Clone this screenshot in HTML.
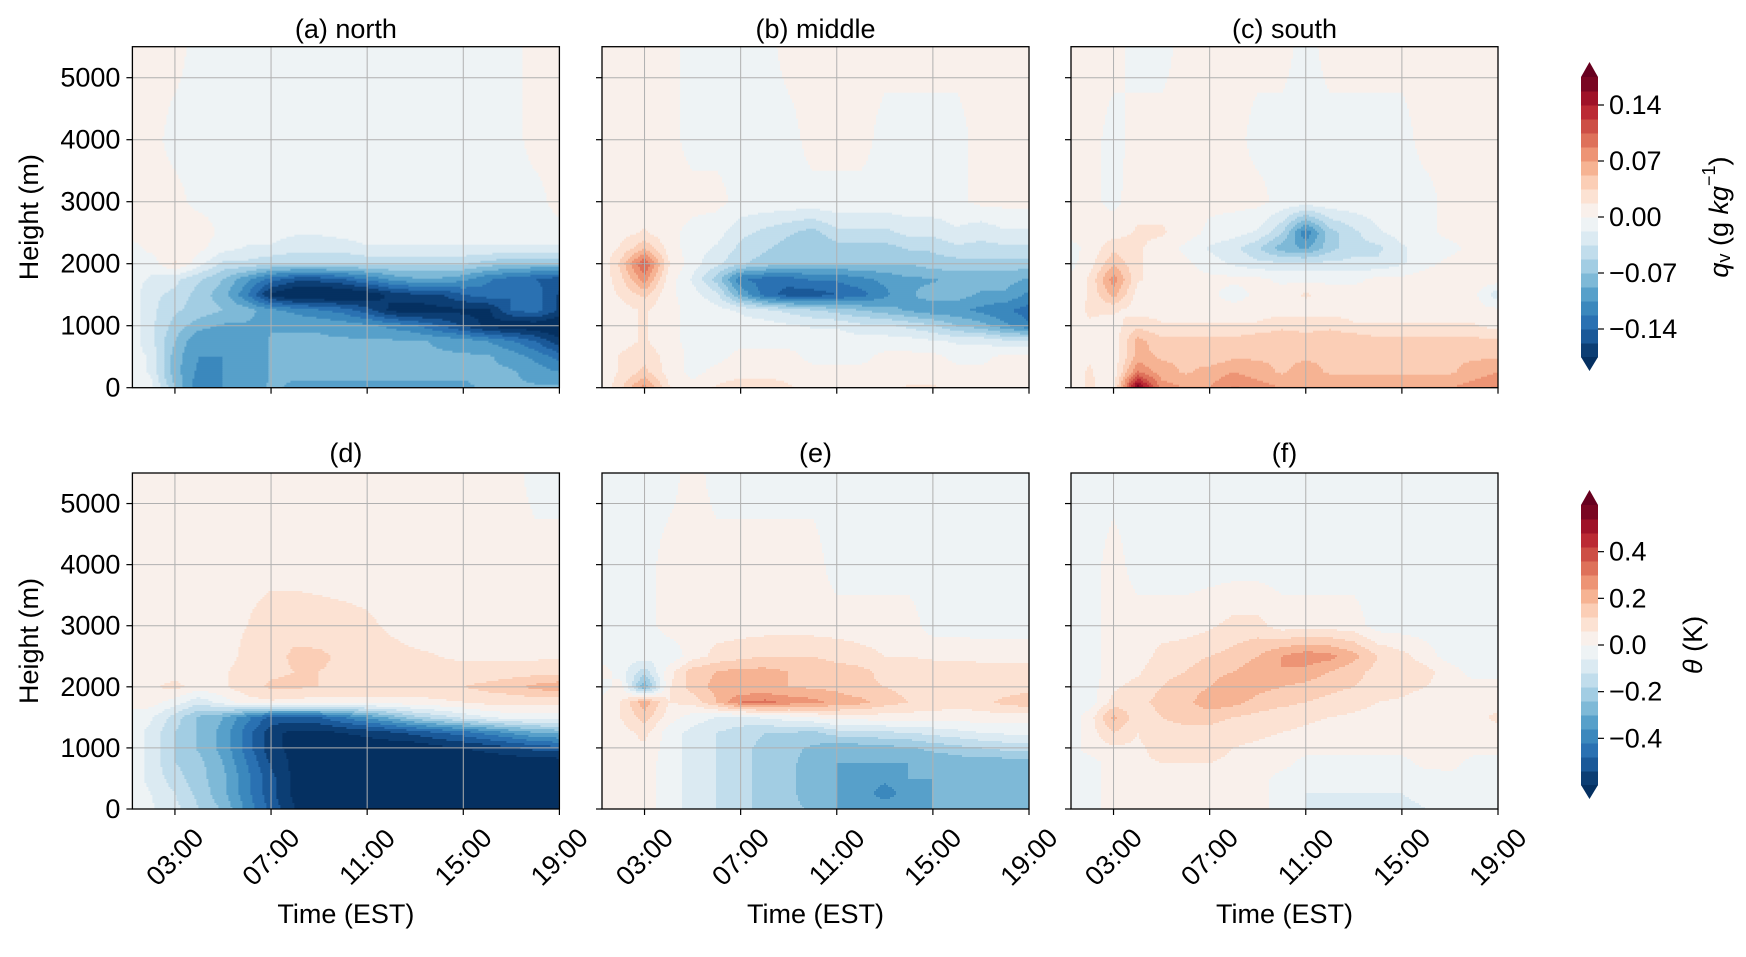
<!DOCTYPE html>
<html><head><meta charset="utf-8"><style>
html,body{margin:0;padding:0;background:#fff;}
svg text{font-family:"Liberation Sans","DejaVu Sans",sans-serif;fill:#000;}
</style></head>
<body>
<svg id="fig" xmlns="http://www.w3.org/2000/svg" width="1746" height="952" viewBox="0 0 1746 952"></svg>
<script>
// ---------- data ----------
const times=[1.25,2,3,4,5,6,7,8,9,10,11,12,13,14,15,16,17,18,19];
const heights=[5500,4000,3000,2500,2250,2000,1750,1500,1250,1000,750,500,250,0];
const xTickHours=[3,7,11,15,19];
const xTickLabels=["03:00","07:00","11:00","15:00","19:00"];
const yTickValues=[0,1000,2000,3000,4000,5000];
const qvTicks=[0.14,0.07,0,-0.07,-0.14];
const qvTickLabels=["0.14","0.07","0.00","\u22120.07","\u22120.14"];
const thTicks=[0.4,0.2,0,-0.2,-0.4];
const thTickLabels=["0.4","0.2","0.0","\u22120.2","\u22120.4"];
const panelTitles=["(a) north","(b) middle","(c) south","(d)","(e)","(f)"];
// qv in 0.01 g/kg
const qvNorth=[
[0.5,0.5,0.5,-0.5,-0.5,-0.5,-0.5,-0.5,-0.5,-0.5,-0.5,-0.5,-0.5,-0.5,-0.5,-0.5,-0.5,0.5,0.5],
[0.5,0.5,-0.5,-0.5,-0.5,-0.5,-0.5,-0.5,-0.5,-0.5,-0.5,-0.5,-0.5,-0.5,-0.5,-0.5,-0.5,0.5,0.5],
[0.5,0.5,0.5,-0.5,-0.5,-0.5,-0.5,-0.5,-0.5,-0.5,-0.5,-0.5,-0.5,-0.5,-0.5,-0.5,-0.5,-0.5,0.5],
[0.5,0.5,1,1,-0.5,-0.5,-1,-1.5,-1.5,-1,-0.5,-0.5,-0.5,-0.5,-0.5,-0.5,-0.5,-0.5,-0.5],
[-0.5,0.5,1,0.5,-1,-2,-2,-3,-3,-3,-2,-2,-2,-2,-2,-2,-2,-2,-2],
[-0.5,-1,2,-1,-4,-4,-5,-5,-5,-5,-5,-5,-5,-5,-5,-6,-7,-7,-7],
[-1,-2,-3,-5,-7,-10,-13,-15,-15,-14,-12,-10,-9,-9,-10,-12,-13,-14,-15],
[-1,-3,-4,-6,-8,-12,-18,-20,-20,-20,-19,-17,-16,-16,-14,-13,-14,-13,-16],
[-1,-3,-5,-6,-7,-8,-10,-11,-12,-13,-15,-18,-19,-18,-18,-18,-14,-13,-16],
[-1,-3,-6,-8,-9,-9,-9,-9,-9,-9.5,-10,-11,-12,-14,-16,-18,-19,-19,-20],
[-1,-3,-7,-10.5,-10.5,-10.5,-8.5,-8.5,-8.5,-8.5,-8.5,-8.5,-8.5,-9,-9.5,-10.5,-12,-14,-17],
[-1,-2,-8,-10.5,-10.5,-10.5,-8.5,-8.5,-8.5,-8.5,-8.5,-8.5,-8.5,-8.5,-8.5,-8.5,-9.5,-11,-13],
[-1,-2,-8,-11,-10.5,-10.5,-8.5,-8.5,-8.5,-8.5,-8.5,-8.5,-8.5,-8.5,-8.5,-8.5,-8.5,-9.5,-10.5],
[-0.5,-1,-7,-12,-10.5,-10,-8.5,-9,-9,-9,-9,-9,-9,-9,-9,-8.5,-8.5,-8.5,-8.5]];
const qvMiddle=[
[0.5,0.5,0.5,0.5,-0.5,-0.5,-0.5,-0.5,0.5,0.5,0.5,0.5,0.5,0.5,0.5,0.5,0.5,0.5,0.5],
[0.5,0.5,0.5,0.5,-0.5,-0.5,-0.5,-0.5,-0.5,0.5,0.5,0.5,-0.5,-0.5,-0.5,-0.5,0.5,0.5,0.5],
[0.5,0.5,0.5,0.5,0.5,0.5,-0.5,-0.5,-0.5,-0.5,-0.5,-0.5,-0.5,-0.5,-0.5,-0.5,0.5,0.5,0.5],
[0.5,1,2,0.5,-0.5,-1,-3,-4,-5,-6,-4,-4,-4,-3,-3,-2,-3,-2,-2],
[0.5,2,5,1,-1,-2,-4,-5,-6,-7,-6,-6,-6,-5,-5,-4,-4,-4,-4],
[0.5,4,11,2,-1,-3,-5,-6,-7,-7,-7,-7,-7,-7,-6,-6,-6,-6,-6],
[0.5,3,8,1,-2,-6,-12,-13,-13,-12,-12,-11,-10,-9,-9,-8,-8,-8,-9],
[0.5,2,4,0.5,-1,-3,-9,-13,-15,-15,-14,-13,-11,-9,-8,-8,-9,-9,-11],
[0.5,1,2,0.5,-0.5,-1,-2,-3,-4,-5,-6,-7,-8,-9,-10,-10,-11,-12,-13],
[0.5,1,2,0.5,-0.5,-0.5,-1,-1,-1.5,-2,-2,-3,-3,-4,-5,-7,-8,-10,-12],
[0.5,1,2,0.5,-0.5,-0.5,-0.5,-0.5,-0.5,-0.5,-0.5,-1,-1,-1,-1.5,-2,-2,-3,-3],
[0.5,2,3,1,-0.5,-0.5,0.5,0.5,0.5,-0.5,-0.5,-0.5,0.5,0.5,0.5,-0.5,-0.5,0.5,0.5],
[0.5,2,4,1,-0.5,0.5,1,1,1,0.5,0.5,0.5,0.5,1,1,0.5,0.5,0.5,0.5],
[0.5,3,8,2,0.5,2,3,3,2,1,1,1,1,2,2,1,1,1,1]];
const qvSouth=[
[0.5,0.5,0.5,-0.5,-0.5,0.5,0.5,0.5,0.5,0.5,-0.5,0.5,0.5,0.5,0.5,0.5,0.5,0.5,0.5],
[0.5,0.5,-0.5,0.5,0.5,0.5,0.5,0.5,-0.5,-0.5,-0.5,-0.5,-0.5,-0.5,-0.5,0.5,0.5,0.5,0.5],
[0.5,0.5,-0.5,1,1,1,0.5,0.5,0.5,-0.5,-0.5,-0.5,-0.5,-0.5,-0.5,-0.5,0.5,0.5,0.5],
[0.5,0.5,1,2,2,1,-0.5,-1,-2,-5,-12,-6,-4,-2,-1,-0.5,0.5,0.5,0.5],
[-0.5,0.5,3,2,1,-0.5,-2,-3,-5,-8,-9,-6,-4,-4,-2,-1,-0.5,0.5,0.5],
[-0.5,1,5,2,1,0.5,-1,-2,-3,-3,-3,-3,-3,-3,-2,-0.5,0.5,1,1],
[0.5,2,8,2,1,0.5,0.5,0.5,0.5,-0.5,-0.5,-0.5,-0.5,0.5,0.5,1,1,1,1],
[0.5,2,6,1,0.5,0.5,0.5,-1,0.5,1,2,1,1,0.5,0.5,0.5,0.5,0.5,-3],
[1,2,2,1,1,0.5,1,1,1,1,1,1,1,1,1,1,0.5,0.5,0.5],
[1,1.5,1,3,2,2,2,2,2,3,3,3,2,2,2,2,2,2,1],
[1,1.5,0.5,6,4,4,4,4,5,5,4,5,5,4,4,4,4,4,4],
[1,1.5,0.5,6,5,5,4,5,5,5,5,5,5,5,4,5,5,5,5],
[1,2,0.5,9,6,5,6,7,6,5,6,5,5,5,5,5,5,6,7],
[1,2,1,17,8,7,7,9,8,7,7,7,7,7,7,7,7,8,9]];
// theta in 0.01 K
const thNorth=[
[3,3,3,3,3,3,3,3,3,3,3,3,3,3,3,3,3,-3,-3],
[3,3,3,3,3,3,3,3,3,3,3,3,3,3,3,3,3,3,3],
[3,3,3,3,3,6,10,10,9,8,7,5,3,3,3,3,3,3,3],
[3,3,3,3,3,8,10,13,13,11,9,8,7,6,5,5,5,5,5],
[3,3,3,3,5,9,11,12,12,11,10,9,8,8,8,8,9,9,10],
[3,5,8,3,5,10,13,13,12,12,11,11,10,10,12,14,16,20,22],
[2,3,-3,-10,-3,3,5,4,3,3,3,3,4,5,6,8,8,8,8],
[-2,-5,-15,-25,-30,-40,-50,-50,-48,-42,-35,-28,-20,-15,-10,-6,-3,-3,-3],
[-3,-8,-18,-25,-32,-45,-58,-62,-62,-60,-58,-55,-52,-48,-45,-40,-35,-30,-28],
[-3,-8,-18,-25,-32,-45,-58,-62,-65,-65,-65,-65,-65,-62,-60,-58,-55,-52,-50],
[-3,-8,-18,-22,-30,-42,-55,-62,-65,-65,-65,-65,-65,-65,-65,-65,-65,-65,-65],
[-3,-8,-15,-22,-28,-40,-52,-62,-65,-65,-65,-65,-65,-65,-65,-65,-65,-65,-65],
[-2,-6,-12,-20,-28,-40,-52,-62,-65,-65,-65,-65,-65,-65,-65,-65,-65,-65,-65],
[-2,-5,-10,-18,-25,-38,-50,-60,-65,-65,-65,-65,-65,-65,-65,-65,-65,-65,-65]];
const thMiddle=[
[-3,-3,-3,-3,3,-3,-3,-3,-3,-3,-3,-3,-3,-3,-3,-3,-3,-3,-3],
[-3,-3,-3,3,3,3,3,3,3,3,-3,-3,-3,-3,-3,-3,-3,-3,-3],
[-3,-3,-3,3,3,3,3,3,3,3,3,3,3,3,-3,-3,-3,-3,-3],
[-3,-3,-3,-5,3,8,10,12,12,12,10,8,6,6,5,5,4,4,4],
[3,-3,-15,3,15,18,20,20,18,16,15,14,10,9,9,9,9,9,9],
[-3,3,-30,5,15,20,18,18,18,17,16,13,12,10,8,6,6,8,10],
[3,6,22,6,8,18,30,32,28,26,22,20,15,12,10,8,10,14,16],
[3,6,15,3,-3,-6,-8,-5,-3,0,3,3,3,3,3,3,3,3,3],
[3,3,8,-3,-8,-12,-15,-18,-18,-20,-15,-15,-13,-12,-10,-8,-6,-5,-5],
[3,3,5,-3,-8,-12,-16,-20,-22,-25,-28,-27,-26,-25,-22,-20,-18,-16,-16],
[3,3,3,-3,-8,-12,-16,-20,-22,-28,-30,-30,-30,-30,-30,-28,-28,-28,-28],
[3,3,3,-3,-8,-12,-16,-20,-22,-28,-30,-32,-34,-30,-30,-30,-30,-30,-30],
[3,3,3,-3,-8,-12,-16,-20,-22,-28,-30,-32,-40,-32,-30,-30,-30,-30,-30],
[3,3,3,-3,-8,-12,-16,-20,-22,-25,-30,-30,-30,-30,-30,-30,-30,-30,-30]];
const thSouth=[
[-3,-3,-3,-3,-3,-3,-3,-3,-3,-3,-3,-3,-3,-3,-3,-3,-3,-3,-3],
[-3,-3,3,-3,-3,-3,-3,-3,-3,-3,-3,-3,-3,-3,-3,-3,-3,-3,-3],
[-3,-3,3,3,3,3,5,8,8,3,3,3,3,-3,-3,-3,-3,-3,-3],
[-3,-3,3,3,8,10,12,14,18,24,28,26,20,12,8,3,-3,-3,-3],
[-3,-3,3,5,10,12,15,18,22,24,22,18,14,10,10,8,3,-3,-3],
[-3,-3,5,8,12,15,18,24,20,18,16,14,12,10,8,6,3,3,3],
[-3,-3,8,10,14,16,22,20,16,14,12,10,8,6,5,3,3,3,3],
[-3,3,20,8,12,14,14,12,10,8,7,6,5,4,3,3,3,3,8],
[-3,3,12,6,10,10,10,8,7,6,5,4,3,3,3,3,3,3,3],
[-3,3,5,5,8,8,8,6,5,4,3,3,3,3,3,3,3,3,3],
[-3,-3,3,5,6,6,6,5,4,3,-3,-3,-3,-3,-3,3,3,-3,-3],
[-3,-3,3,5,6,6,6,5,3,-3,-5,-6,-6,-6,-5,-5,-3,-3,-3],
[-3,-3,3,5,6,6,6,5,3,-3,-6,-6,-6,-6,-6,-5,-3,-3,-3],
[-3,-3,3,3,5,5,5,3,3,-3,-6,-7,-7,-7,-7,-6,-3,-3,-3]];

// ---------- layout ----------
const NS="http://www.w3.org/2000/svg";
const svg=document.getElementById('fig');
function mk(tag,attrs,parent){const e=document.createElementNS(NS,tag);for(const k in attrs)e.setAttribute(k,attrs[k]);(parent||svg).appendChild(e);return e;}
const colX=[132.4,602,1071], PW=427;
const rowY=[46.7,473], rowH=[341,336];
const T0=1.23,T1=19,HMAX=5500;
const FS=27;
const anchors=["#053061","#2166ac","#4393c3","#92c5de","#d1e5f0","#f7f7f7","#fddbc7","#f4a582","#d6604d","#b2182b","#67001f"];
function hex(c){return[parseInt(c.substr(1,2),16),parseInt(c.substr(3,2),16),parseInt(c.substr(5,2),16)];}
function cmap(t){t=Math.max(0,Math.min(1,t));const s=t*10;const i=Math.min(9,Math.floor(s));const f=s-i;const a=hex(anchors[i]),b=hex(anchors[i+1]);
 return 'rgb('+a.map((v,k)=>Math.round(v+(b[k]-v)*f)).join(',')+')';}
function bandColor(b){if(b<0)return cmap(0);if(b>19)return cmap(1);return cmap((b+0.5)/20);}
function interp(grid,t,h){
 let j=0;while(j<times.length-2&&t>times[j+1])j++;
 let i=0;while(i<heights.length-2&&h<heights[i+1])i++;
 let ft=(t-times[j])/(times[j+1]-times[j]);ft=Math.max(0,Math.min(1,ft));
 let fh=(heights[i]-h)/(heights[i]-heights[i+1]);fh=Math.max(0,Math.min(1,fh));
 const a=grid[i][j],b=grid[i][j+1],c=grid[i+1][j],d=grid[i+1][j+1];
 return (a*(1-ft)+b*ft)*(1-fh)+(c*(1-ft)+d*ft)*fh;}

const panels=[
 {grid:qvNorth,step:0.0175,row:0,col:0,name:'qv-north'},
 {grid:qvMiddle,step:0.0175,row:0,col:1,name:'qv-middle'},
 {grid:qvSouth,step:0.0175,row:0,col:2,name:'qv-south'},
 {grid:thNorth,step:0.06,row:1,col:0,name:'theta-north'},
 {grid:thMiddle,step:0.06,row:1,col:1,name:'theta-middle'},
 {grid:thSouth,step:0.06,row:1,col:2,name:'theta-south'}];

const defs=mk('defs',{});
panels.forEach((p,pi)=>{
 const x0=colX[p.col],y0=rowY[p.row],ph=rowH[p.row];
 const xs=t=>x0+(t-T0)/(T1-T0)*PW;
 const ys=h=>y0+ph-(h/HMAX)*ph;
 const g=mk('g',{});
 
 
 const cp=mk('clipPath',{id:'cp'+pi},defs);
 mk('rect',{x:x0,y:y0,width:PW,height:ph},cp);
 const field=mk('g',{'clip-path':'url(#cp'+pi+')'},g);
 
 
 const cs=2;
 for(let py=0;py<ph;py+=cs){
  let runStart=0,runBand=null;
  const h=HMAX*(1-(py+cs/2)/ph);
  const flush=(endPx)=>{
   const r=mk('rect',{x:(x0+runStart).toFixed(1),y:(y0+py).toFixed(1),width:(endPx-runStart+0.6).toFixed(1),height:cs+0.6,fill:bandColor(runBand)},field);
   
   
  };
  for(let px=0;px<PW;px+=cs){
   const t=T0+(px+cs/2)/PW*(T1-T0);
   const v=interp(p.grid,t,h)/100;
   const b=Math.floor((v+10*p.step)/p.step);
   const bb=b<0?-1:(b>19?20:b);
   if(runBand===null){runBand=bb;runStart=px;}
   else if(bb!==runBand){flush(px);runBand=bb;runStart=px;}
  }
  flush(PW);
 }
 xTickHours.forEach(hr=>{const x=xs(hr);
  const l=mk('line',{x1:x,x2:x,y1:y0,y2:y0+ph,stroke:'#b0b0b0','stroke-width':1},g);
  
  });
 yTickValues.forEach(v=>{const y=ys(v);
  const l=mk('line',{x1:x0,x2:x0+PW,y1:y,y2:y,stroke:'#b0b0b0','stroke-width':1},g);
  
  });
 const fr=mk('rect',{x:x0,y:y0,width:PW,height:ph,fill:'none',stroke:'#000','stroke-width':1.3},g);
 
 
 yTickValues.forEach(v=>{const y=ys(v);
  const tk=mk('line',{x1:x0-6,x2:x0,y1:y,y2:y,stroke:'#000','stroke-width':1.2},g);
  
  
  if(p.col===0){const tx=mk('text',{x:x0-12,y:y,'text-anchor':'end','dominant-baseline':'central','font-size':FS},g);
   tx.textContent=String(v);
   
   }
 });
 xTickHours.forEach((hr,k)=>{const x=xs(hr);
  const tk=mk('line',{x1:x,x2:x,y1:y0+ph,y2:y0+ph+6,stroke:'#000','stroke-width':1.2},g);
  
  
  if(p.row===1){const cy=y0+ph+48;
   const tx=mk('text',{x:x,y:cy,'text-anchor':'middle','dominant-baseline':'central','font-size':FS,transform:'rotate(-45 '+x+' '+cy+')'},g);
   tx.textContent=xTickLabels[k];
   
   }
 });
 const tt=mk('text',{x:x0+PW/2,y:p.row===0?38:462,'text-anchor':'middle','font-size':FS},g);
 tt.textContent=panelTitles[pi];
 
 
 if(p.row===1){const xl=mk('text',{x:x0+PW/2,y:923,'text-anchor':'middle','font-size':FS},g);
  xl.textContent='Time (EST)';
  
  }
 if(p.col===0){const cy=y0+ph/2;
  const yl=mk('text',{x:29,y:cy,'text-anchor':'middle','dominant-baseline':'central','font-size':FS,transform:'rotate(-90 29 '+cy+')'},g);
  yl.textContent='Height (m)';
  
  }
});

// ---------- colorbars ----------
function colorbar(top,bottom,step,ticks,labels,name){
 const g=mk('g',{});
 
 
 const x=1581,w=17,bh=(bottom-top)/20;
 for(let b=0;b<20;b++){
  const r=mk('rect',{x:x,y:(bottom-(b+1)*bh).toFixed(2),width:w,height:(bh+0.5).toFixed(2),fill:bandColor(b)},g);
  
  }
 const up=mk('polygon',{points:x+','+top+' '+(x+w)+','+top+' '+(x+w/2)+','+(top-15),fill:bandColor(20)},g);
 
 
 const dn=mk('polygon',{points:x+','+bottom+' '+(x+w)+','+bottom+' '+(x+w/2)+','+(bottom+14),fill:bandColor(-1)},g);
 
 
 const zeroY=(top+bottom)/2, scale=(bottom-top)/(20*step);
 ticks.forEach((v,k)=>{const y=zeroY-v*scale;
  const tk=mk('line',{x1:x+w,x2:x+w+6,y1:y,y2:y,stroke:'#000','stroke-width':1.2},g);
  
  
  const tx=mk('text',{x:x+w+11,y:y,'dominant-baseline':'central','font-size':FS},g);
  tx.textContent=labels[k];
  
  });
 return g;}
const cb1=colorbar(77,357,0.0175,qvTicks,qvTickLabels,'qv-colorbar');
const cb2=colorbar(505,785,0.06,thTicks,thTickLabels,'theta-colorbar');
const l1=mk('text',{x:1719,y:217,'text-anchor':'middle','dominant-baseline':'central','font-size':FS,transform:'rotate(-90 1719 217)'},cb1);
l1.innerHTML='<tspan font-style="italic">q</tspan><tspan font-size="18" dy="5">v</tspan><tspan dy="-5"> (g </tspan><tspan font-style="italic">kg</tspan><tspan font-size="18" dy="-10">\u22121</tspan><tspan dy="10">)</tspan>';


const l2=mk('text',{x:1693,y:645,'text-anchor':'middle','dominant-baseline':'central','font-size':FS,transform:'rotate(-90 1693 645)'},cb2);
l2.innerHTML='<tspan font-style="italic">\u03b8</tspan> (K)';


</script>
</body></html>
